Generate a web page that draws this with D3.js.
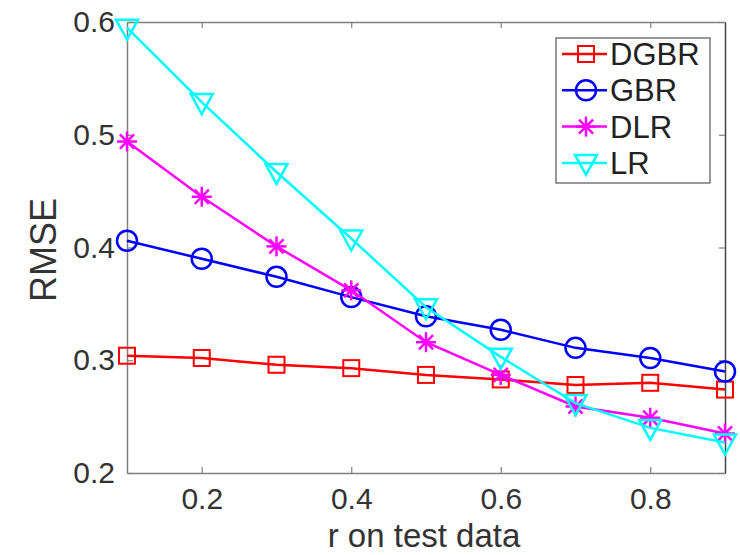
<!DOCTYPE html>
<html lang="en">
<head>
    <meta charset="utf-8">
    <title>rmse.html</title>
    <script type="text/javascript" src="https://cdnjs.cloudflare.com/ajax/libs/d3/7.8.5/d3.min.js"></script>
    <style>
      body { margin: 0; background: #fff; }
      text { font-family: "Liberation Sans", Arial, sans-serif; }
    </style>
</head>
<body>
    <script type="text/javascript">
    // data
    var rValues = [0.1, 0.2, 0.3, 0.4, 0.5, 0.6, 0.7, 0.8, 0.9];
    var dgbr = [0.304, 0.302, 0.296, 0.293, 0.287, 0.283, 0.278, 0.280, 0.274];
    var gbr  = [0.406, 0.390, 0.374, 0.356, 0.339, 0.327, 0.311, 0.302, 0.290];
    var dlr  = [0.494, 0.445, 0.401, 0.362, 0.316, 0.287, 0.259, 0.249, 0.235];
    var lr   = [0.595, 0.529, 0.467, 0.408, 0.347, 0.303, 0.262, 0.240, 0.227];
    var xTicks = [0.2, 0.4, 0.6, 0.8];
    var yTicks = [0.2, 0.3, 0.4, 0.5, 0.6];

    var series = [
      {name: "DGBR", values: dgbr, color: "#ff0000", marker: "square"},
      {name: "GBR",  values: gbr,  color: "#0000ff", marker: "circle"},
      {name: "DLR",  values: dlr,  color: "#ff00ff", marker: "star"},
      {name: "LR",   values: lr,   color: "#00ffff", marker: "triangle"}
    ];

    var width = 740, height = 555;
    var plot = {left: 127, right: 725, top: 22, bottom: 473};

    var xScale = d3.scaleLinear().domain([0.1, 0.9]).range([plot.left, plot.right]);
    var yScale = d3.scaleLinear().domain([0.2, 0.6]).range([plot.bottom, plot.top]);

    var svg = d3.select("body").append("svg")
                .attr("width", width)
                .attr("height", height);

    // axes (matlab style, ticks inside, box around)
    var axisColor = "#808080";
    function styleAxis(g, showText) {
      g.select(".domain").attr("stroke", axisColor).attr("stroke-width", 1.5);
      g.selectAll(".tick line").attr("stroke", axisColor).attr("stroke-width", 1.2);
      g.selectAll(".tick text")
       .attr("fill", "#333")
       .style("font-size", "30px")
       .style("font-family", "'Liberation Sans', Arial, sans-serif")
       .style("display", showText ? null : "none");
    }

    svg.append("g")
       .attr("transform", "translate(0," + plot.bottom + ")")
       .call(d3.axisBottom(xScale).tickValues(xTicks).tickSize(-6).tickSizeOuter(0).tickPadding(15).tickFormat(d3.format(".1f")))
       .call(styleAxis, true);

    svg.append("g")
       .attr("transform", "translate(0," + plot.top + ")")
       .call(d3.axisTop(xScale).tickValues(xTicks).tickSize(-6).tickSizeOuter(0))
       .call(styleAxis, false);

    svg.append("g")
       .attr("transform", "translate(" + plot.left + ",0)")
       .call(d3.axisLeft(yScale).tickValues(yTicks).tickSize(-6).tickSizeOuter(0).tickPadding(12).tickFormat(d3.format(".1f")))
       .call(styleAxis, true);

    var rightAxis = svg.append("g")
       .attr("transform", "translate(" + plot.right + ",0)")
       .call(d3.axisRight(yScale).tickValues(yTicks).tickSize(-6).tickSizeOuter(0))
       .call(styleAxis, false);
    rightAxis.select(".domain").attr("stroke", "#444");

    // axis labels
    svg.append("text")
       .attr("x", 424)
       .attr("y", 547)
       .attr("text-anchor", "middle")
       .attr("fill", "#333")
       .style("font-size", "33px")
       .text("r on test data");

    svg.append("text")
       .attr("transform", "translate(56,250) rotate(-90)")
       .attr("text-anchor", "middle")
       .attr("fill", "#333")
       .style("font-size", "36px")
       .text("RMSE");

    // marker drawing
    function drawMarker(g, type, color) {
      if (type === "square") {
        g.append("rect").attr("x", -8).attr("y", -8).attr("width", 16).attr("height", 16)
         .attr("fill", "none").attr("stroke", color).attr("stroke-width", 2);
      } else if (type === "circle") {
        g.append("circle").attr("r", 10)
         .attr("fill", "none").attr("stroke", color).attr("stroke-width", 2.5);
      } else if (type === "star") {
        var r = 10;
        [0, 45, 90, 135].forEach(function(a) {
          var t = a * Math.PI / 180;
          g.append("line")
           .attr("x1", -r * Math.cos(t)).attr("y1", -r * Math.sin(t))
           .attr("x2", r * Math.cos(t)).attr("y2", r * Math.sin(t))
           .attr("stroke", color).attr("stroke-width", 2.5);
        });
      } else if (type === "triangle") {
        g.append("path").attr("d", "M-11,-8L11,-8L0,12Z")
         .attr("fill", "none").attr("stroke", color).attr("stroke-width", 2.5);
      }
    }

    var line = d3.line()
                 .x(function(d, i) { return xScale(rValues[i]); })
                 .y(function(d) { return yScale(d); });

    series.forEach(function(s) {
      svg.append("path")
         .datum(s.values)
         .attr("d", line)
         .attr("fill", "none")
         .attr("stroke", s.color)
         .attr("stroke-width", 2.5);
      s.values.forEach(function(v, i) {
        var g = svg.append("g")
                   .attr("transform", "translate(" + xScale(rValues[i]) + "," + yScale(v) + ")");
        drawMarker(g, s.marker, s.color);
      });
    });

    // legend
    var legend = svg.append("g").attr("transform", "translate(556,38)");
    legend.append("rect")
          .attr("width", 154).attr("height", 145)
          .attr("fill", "#fff").attr("stroke", "#555").attr("stroke-width", 1.2);

    series.forEach(function(s, i) {
      var y = 16 + i * 36.3;
      var row = legend.append("g").attr("transform", "translate(0," + y + ")");
      row.append("line")
         .attr("x1", 6).attr("x2", 51).attr("y1", 0).attr("y2", 0)
         .attr("stroke", s.color).attr("stroke-width", 2.5);
      var m = row.append("g").attr("transform", "translate(30,0)");
      drawMarker(m, s.marker, s.color);
      row.append("text")
         .attr("x", 54).attr("y", 11)
         .attr("fill", "#222")
         .style("font-size", "31px")
         .text(s.name);
    });
    </script>
</body>
</html>
